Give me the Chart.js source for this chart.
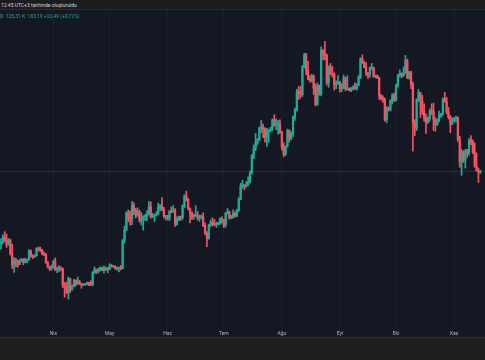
<!DOCTYPE html>
<html lang="tr">
<head>
<meta charset="utf-8">
<title>ETH günlük</title>
<script src="https://cdn.jsdelivr.net/npm/chart.js@4.4.1/dist/chart.umd.min.js"></script>
<style>
  html, body { margin: 0; padding: 0; }
  body { width: 485px; height: 360px; position: relative; overflow: hidden; background: #1f1f21; font-family: Roboto, "DejaVu Sans", sans-serif; }
  #topBar { position: absolute; left: 0; top: 0; width: 485px; height: 10px; background: #1c1c1f; border-bottom: 1px solid #2a2d36; box-sizing: border-box; color: #d1d4dc; font-size: 5px; line-height: 10px; padding-left: 1px; z-index: 2; }
  #pane { position: absolute; left: 0; top: 10px; width: 485px; height: 331px; background: #141823; }
  #legend { position: absolute; left: 0; top: 13px; font-size: 5px; color: #22ab94; white-space: nowrap; }
  #bottomBar { position: absolute; left: 0; top: 337px; width: 485px; height: 23px; background: #1f1f1f; border-top: 1px solid #2a2d36; box-sizing: border-box; z-index: 2; }
</style>
</head>
<body>
<div id="topBar">12:45 UTC+3 tarihinde oluşturuldu</div>
<div id="pane"><canvas id="candles" width="485" height="331"></canvas></div>
<div id="legend">D: 125,31 K: 163,19 +22,49 (+0,72%)</div>
<div id="bottomBar"></div>
<script>
// --- günlük mumlar: 4 Mart 2025 -> 15 Kasım 2025 ---
const startDate = Date.UTC(2025, 2, 4);
const dayCount = 259; // sağda iki günlük boşluk
const monthNames = ['Oca', 'Şub', 'Mar', 'Nis', 'May', 'Haz', 'Tem', 'Ağu', 'Eyl', 'Eki', 'Kas', 'Ara'];

const days = [];
for (let i = 0; i < dayCount; i++) {
  days.push(new Date(startDate + i * 86400000).toISOString().slice(0, 10));
}

const opens = [
  2150,2170,2240,2200,2140,2205,2020,1865,1920,1910,1865,1910,1935,1890,1925,1930,2055,1980,1965,1985,2085,2080,2065,2010,2005,1895,1830,1805,
  1825,1905,1795,1815,1815,1805,1580,1555,1470,1670,1525,1570,1645,1595,1625,1590,1580,1585,1590,1615,1585,1580,1755,1795,1770,1785,1820,1790,1800,1800,
  1795,1840,1840,1835,1810,1815,1815,1810,2200,2345,2580,2515,2495,2680,2610,2545,2595,2480,2495,2525,2525,2555,2665,2525,2535,2550,2565,2655,2680,2630,2530,
  2530,2500,2605,2590,2610,2420,2480,2525,2510,2680,2815,2770,2640,2580,2525,2545,2550,2510,2525,2525,2410,2295,2230,2410,2450,2420,2415,2425,2435,2500,
  2485,2405,2570,2590,2510,2515,2570,2540,2615,2770,2950,2960,2945,2970,3010,3135,3370,3475,3550,3590,3755,3760,3740,3630,3700,3725,3745,3870,3795,3800,3810,
  3700,3490,3390,3500,3720,3610,3680,3910,4010,4260,4250,4220,4600,4770,4550,4430,4420,4475,4310,4080,4340,4225,4830,4780,4760,4380,4600,4510,4500,4360,4370,
  4390,4300,4320,4450,4300,4300,4275,4305,4310,4300,4350,4460,4715,4670,4600,4520,4500,4590,4590,4470,4480,4450,4200,4160,4150,3870,4030,4010,4140,4215,
  4145,4350,4485,4510,4480,4520,4690,4450,4530,4360,3830,3750,4150,4245,4130,3990,3890,3830,3890,3985,3980,3875,3805,3855,3935,3955,4160,4120,3980,3900,3810,
  3850,3880,3900,3600,3285,3425,3310,3430,3410,3590,3565,3420,3225,3165,3141
];
const highs = [
  2220,2275,2320,2285,2225,2215,2145,1960,1950,1925,1935,1950,1945,1955,1935,2070,2065,2000,2000,2095,2105,2105,2075,2035,2015,1905,1840,1855,
  1925,1955,1825,1850,1830,1815,1615,1620,1690,1675,1580,1660,1650,1690,1645,1605,1600,1595,1620,1620,1640,1765,1830,1800,1815,1830,1825,1845,1830,1820,
  1875,1865,1850,1845,1830,1825,1850,2210,2395,2595,2620,2605,2740,2720,2640,2650,2615,2580,2540,2560,2610,2735,2735,2575,2560,2595,2715,2695,2790,2655,2545,
  2545,2610,2660,2680,2640,2525,2535,2535,2690,2830,2880,2780,2650,2595,2560,2680,2600,2550,2550,2580,2440,2320,2420,2480,2510,2490,2450,2450,2510,2525,
  2490,2590,2640,2605,2545,2620,2595,2630,2790,2990,3030,2970,3010,3080,3160,3390,3520,3680,3610,3770,3860,3810,3760,3750,3740,3770,3880,3940,3880,3860,3870,
  3710,3550,3510,3740,3730,3700,3920,4030,4290,4330,4330,4620,4790,4790,4680,4480,4500,4490,4360,4380,4350,4880,4840,4955,4780,4620,4650,4610,4520,4410,4480,
  4400,4370,4490,4460,4480,4310,4320,4340,4380,4370,4480,4730,4770,4680,4660,4520,4600,4650,4600,4490,4490,4460,4220,4200,4170,4050,4050,4145,4230,4240,
  4360,4500,4560,4520,4600,4760,4710,4540,4540,4390,3870,4160,4290,4250,4210,4090,3950,3910,4020,4090,4100,3900,3880,3990,3960,4170,4250,4180,4040,3930,3900,
  3900,3920,3910,3640,3460,3440,3460,3460,3610,3650,3590,3550,3410,3200,3170
];
const lows = [
  2075,2150,2180,2100,2130,1995,1810,1755,1830,1825,1860,1905,1860,1885,1890,1920,1965,1945,1965,1980,2050,2040,1995,1985,1880,1815,1780,1785,
  1815,1780,1750,1765,1780,1540,1410,1460,1385,1475,1505,1555,1565,1590,1585,1535,1570,1575,1580,1570,1570,1575,1740,1740,1745,1775,1780,1745,1780,1750,
  1790,1825,1825,1800,1785,1760,1790,1805,2160,2330,2455,2410,2415,2555,2510,2530,2450,2410,2340,2470,2470,2550,2505,2510,2460,2535,2550,2610,2610,2510,2480,
  2480,2470,2580,2590,2390,2410,2470,2475,2490,2650,2745,2620,2440,2490,2490,2530,2480,2460,2495,2390,2280,2110,2215,2390,2400,2400,2380,2415,2420,2435,
  2375,2380,2560,2490,2500,2505,2520,2525,2600,2760,2920,2900,2935,2960,2990,3120,3330,3440,3520,3580,3690,3620,3560,3500,3560,3700,3720,3780,3730,3670,3680,
  3450,3355,3375,3490,3560,3590,3640,3860,3990,4150,4170,4190,4590,4490,4420,4390,4390,4220,4060,4070,4210,4200,4700,4700,4350,4320,4490,4460,4280,4300,4360,
  4250,4260,4300,4270,4280,4270,4260,4280,4290,4280,4340,4440,4650,4590,4480,4440,4460,4560,4460,4450,4440,4150,4140,4110,3850,3830,3990,3990,4090,4120,
  4130,4320,4460,4450,4470,4510,4440,4430,4300,3435,3650,3720,4120,3900,3940,3850,3680,3820,3850,3940,3720,3710,3790,3840,3900,3930,4110,3950,3880,3690,3800,
  3840,3840,3570,3210,3100,3280,3200,3350,3380,3520,3400,3210,3160,3000,3125.31
];
const closes = [
  2170,2240,2200,2140,2205,2020,1865,1920,1910,1865,1910,1935,1890,1925,1930,2055,1980,1965,1985,2085,2080,2065,2010,2005,1895,1830,1805,1825,
  1905,1795,1815,1815,1805,1580,1555,1470,1670,1525,1570,1645,1595,1625,1590,1580,1585,1590,1615,1585,1580,1755,1795,1770,1785,1820,1790,1800,1800,1795,
  1840,1840,1835,1810,1815,1815,1810,2200,2345,2580,2515,2495,2680,2610,2545,2595,2480,2495,2525,2525,2555,2665,2525,2535,2550,2565,2655,2680,2630,2530,2530,
  2500,2605,2590,2610,2420,2480,2525,2510,2680,2815,2770,2640,2580,2525,2545,2550,2510,2525,2525,2410,2295,2230,2410,2450,2420,2415,2425,2435,2500,2485,
  2405,2570,2590,2510,2515,2570,2540,2615,2770,2950,2960,2945,2970,3010,3135,3370,3475,3550,3590,3755,3760,3740,3630,3700,3725,3745,3870,3795,3800,3810,3700,
  3490,3390,3500,3720,3610,3680,3910,4010,4260,4250,4220,4600,4770,4550,4430,4420,4475,4310,4080,4340,4225,4830,4780,4760,4380,4600,4510,4500,4360,4370,4390,
  4300,4320,4450,4300,4300,4275,4305,4310,4300,4350,4460,4715,4670,4600,4520,4500,4590,4590,4470,4480,4450,4200,4160,4150,3870,4030,4010,4140,4215,4145,
  4350,4485,4510,4480,4520,4690,4450,4530,4360,3830,3750,4150,4245,4130,3990,3890,3830,3890,3985,3980,3875,3805,3855,3935,3955,4160,4120,3980,3900,3810,3850,
  3880,3900,3600,3285,3425,3310,3430,3410,3590,3565,3420,3225,3165,3141,3163.19
];

const UP = '#22ab94';
const DOWN = '#f7525f';
const candleColors = closes.map((c, i) => (c >= opens[i] ? UP : DOWN));

// son fiyat çizgisi
const lastPriceLine = {
  id: 'lastPriceLine',
  beforeDatasetsDraw(chart) {
    const { ctx, chartArea, scales } = chart;
    const y = Math.round(scales.y.getPixelForValue(closes[closes.length - 1])) + 0.5;
    ctx.save();
    ctx.strokeStyle = 'rgba(120, 135, 150, 0.22)';
    ctx.lineWidth = 1;
    ctx.beginPath();
    ctx.moveTo(chartArea.left, y);
    ctx.lineTo(chartArea.right, y);
    ctx.stroke();
    ctx.restore();
  }
};

new Chart(document.getElementById('candles'), {
  type: 'bar',
  data: {
    labels: days,
    datasets: [
      {
        label: 'fitil',
        data: lows.map((l, i) => [l, highs[i]]),
        backgroundColor: candleColors,
        barThickness: 1,
        grouped: false,
        order: 2
      },
      {
        label: 'gövde',
        data: opens.map((o, i) => [o, closes[i]]),
        backgroundColor: candleColors,
        barThickness: 1.6,
        minBarLength: 1,
        grouped: false,
        order: 1
      }
    ]
  },
  options: {
    responsive: false,
    animation: false,
    layout: { padding: 0 },
    plugins: { legend: { display: false }, tooltip: { enabled: false } },
    scales: {
      x: {
        offset: true,
        afterBuildTicks(axis) {
          axis.ticks = axis.ticks.filter(t => days[t.value] && days[t.value].slice(8) === '01');
        },
        ticks: {
          autoSkip: false,
          maxRotation: 0,
          padding: 4,
          color: '#b2b5be',
          font: { size: 5, family: 'Roboto, "DejaVu Sans", sans-serif' },
          callback(value) {
            return monthNames[parseInt(days[value].slice(5, 7), 10) - 1];
          }
        },
        grid: { offset: false, drawTicks: false, color: 'rgba(255,255,255,0.03)' },
        border: { display: false }
      },
      y: {
        display: false,
        min: 998,
        max: 5390
      }
    }
  },
  plugins: [lastPriceLine]
});
</script>
</body>
</html>
